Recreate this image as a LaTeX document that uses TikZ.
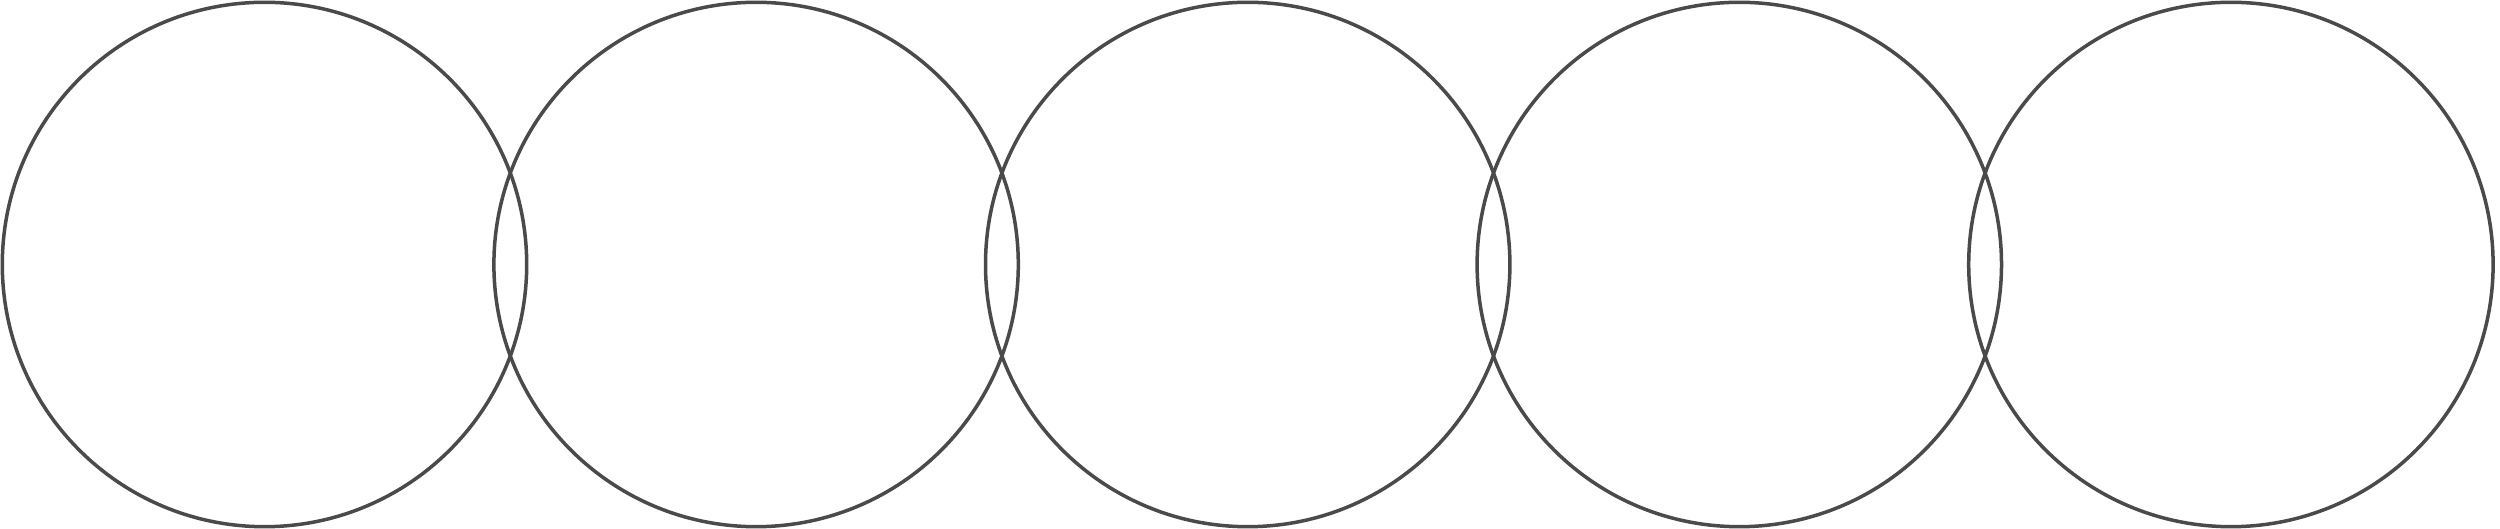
\documentclass[tikz,border=0pt]{standalone}
\begin{document}
\begin{tikzpicture}[x=1pt,y=1pt,
  ring/.style={circle, draw=ringgray, line width=3.5pt, minimum size=524.4pt, inner sep=0pt}]
\definecolor{ringgray}{HTML}{4A4A4A}
\useasboundingbox (0,0) rectangle (2500,529);
\node[ring] (c1) at (264.5,264.5) {};
\node[ring] (c2) at (756.1,264.5) {};
\node[ring] (c3) at (1247.7,264.5) {};
\node[ring] (c4) at (1739.3,264.5) {};
\node[ring] (c5) at (2230.9,264.5) {};
\end{tikzpicture}
\end{document}
